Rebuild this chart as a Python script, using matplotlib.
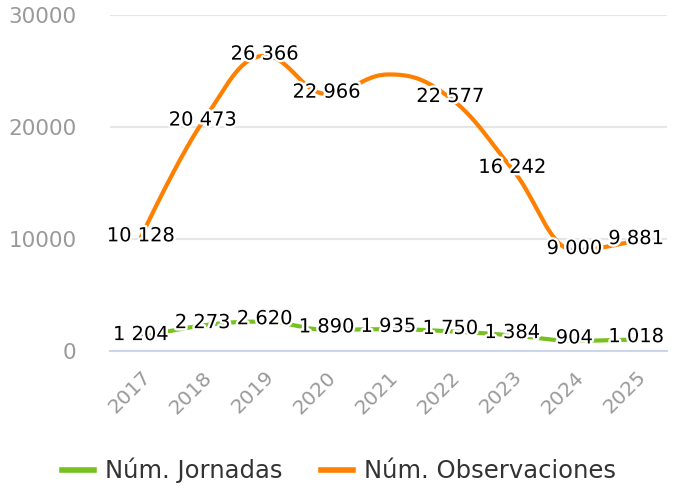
import numpy as np
import matplotlib
matplotlib.use("Agg")
import matplotlib.pyplot as plt
import matplotlib.patheffects as pe
from matplotlib.lines import Line2D

plt.rcParams['font.family'] = ['DejaVu Sans']

years = ["2017", "2018", "2019", "2020", "2021", "2022", "2023", "2024", "2025"]
jornadas = [1204, 2273, 2620, 1890, 1935, 1750, 1384, 904, 1018]
observaciones = [10128, 20473, 26366, 22966, 24700, 22577, 16242, 9000, 9881]
obs_show_label = [True, True, True, True, False, True, True, True, True]
yticks = [0, 10000, 20000, 30000]

GREEN = "#76c11f"
ORANGE = "#ff7f00"


def spline(xs, ys, n=40):
    """Highcharts-like spline smoothing."""
    xs = list(map(float, xs)); ys = list(map(float, ys))
    N = len(xs)
    lc = [(x, y) for x, y in zip(xs, ys)]
    rc = [(x, y) for x, y in zip(xs, ys)]
    s, d = 1.5, 2.5
    for i in range(1, N - 1):
        px, py = xs[i], ys[i]
        lx, ly = xs[i - 1], ys[i - 1]
        nx, ny = xs[i + 1], ys[i + 1]
        lcx = (s * px + lx) / d; lcy = (s * py + ly) / d
        rcx = (s * px + nx) / d; rcy = (s * py + ny) / d
        if rcx != lcx:
            corr = (rcy - lcy) * (rcx - px) / (rcx - lcx) + py - rcy
            lcy += corr; rcy += corr
        if lcy > ly and lcy > py:
            lcy = max(ly, py); rcy = 2 * py - lcy
        elif lcy < ly and lcy < py:
            lcy = min(ly, py); rcy = 2 * py - lcy
        if rcy > ny and rcy > py:
            rcy = max(ny, py); lcy = 2 * py - rcy
        elif rcy < ny and rcy < py:
            rcy = min(ny, py); lcy = 2 * py - rcy
        lc[i] = (lcx, lcy); rc[i] = (rcx, rcy)
    outx, outy = [xs[0]], [ys[0]]
    t = np.linspace(0, 1, n)[1:]
    for i in range(1, N):
        p0 = np.array([xs[i - 1], ys[i - 1]])
        p1 = np.array(rc[i - 1]); p2 = np.array(lc[i]); p3 = np.array([xs[i], ys[i]])
        for tt in t:
            b = ((1 - tt) ** 3) * p0 + 3 * ((1 - tt) ** 2) * tt * p1 + 3 * (1 - tt) * tt ** 2 * p2 + tt ** 3 * p3
            outx.append(b[0]); outy.append(b[1])
    return np.array(outx), np.array(outy)


def fmt(v):
    return f"{v:,}".replace(",", " ")


fig = plt.figure(figsize=(6.78, 4.88), dpi=100)
ax = fig.add_axes([0.162, 0.281, 0.822, 0.688])

x = np.arange(len(years))
for vals, col in [(jornadas, GREEN), (observaciones, ORANGE)]:
    sx, sy = spline(x, vals)
    ax.plot(sx, sy, color=col, lw=3, solid_capstyle='round', zorder=3)

halo = [pe.withStroke(linewidth=3.5, foreground='white')]
for i, v in enumerate(jornadas):
    ax.text(x[i], v + 250, fmt(v), ha='center', va='center', fontsize=14,
            color='black', path_effects=halo, zorder=5)
for i, v in enumerate(observaciones):
    if obs_show_label[i]:
        ax.text(x[i], v + 150, fmt(v), ha='center', va='center', fontsize=14,
                color='black', path_effects=halo, zorder=5)

ax.set_xlim(-0.5, len(years) - 0.5)
ax.set_ylim(0, 30000)
ax.set_yticks(yticks)
ax.set_yticklabels([str(t) for t in yticks])
ax.set_xticks(x)
ax.set_xticklabels(years, rotation=45, ha='right', va='top', rotation_mode='anchor')
ax.tick_params(axis='y', length=0, pad=24, labelsize=15.5, labelcolor='#999999')
ax.tick_params(axis='x', length=0, pad=12, labelsize=14.5, labelcolor='#999999')
for s in ['top', 'right', 'left']:
    ax.spines[s].set_visible(False)
ax.spines['bottom'].set_color('#ccd6eb')
ax.spines['bottom'].set_linewidth(1.5)
ax.grid(axis='y', color='#e6e6e6', lw=1.5)
ax.set_axisbelow(True)

handles = [Line2D([], [], color=GREEN, lw=4), Line2D([], [], color=ORANGE, lw=4)]
fig.legend(handles, ["Núm. Jornadas", "Núm. Observaciones"], loc='center',
           bbox_to_anchor=(0.5, 0.036), ncol=2, frameon=False, fontsize=17.5,
           handlelength=1.3, columnspacing=1.6, handletextpad=0.45,
           labelcolor='#333333')

fig.savefig("out.png", dpi=100, facecolor='white')
